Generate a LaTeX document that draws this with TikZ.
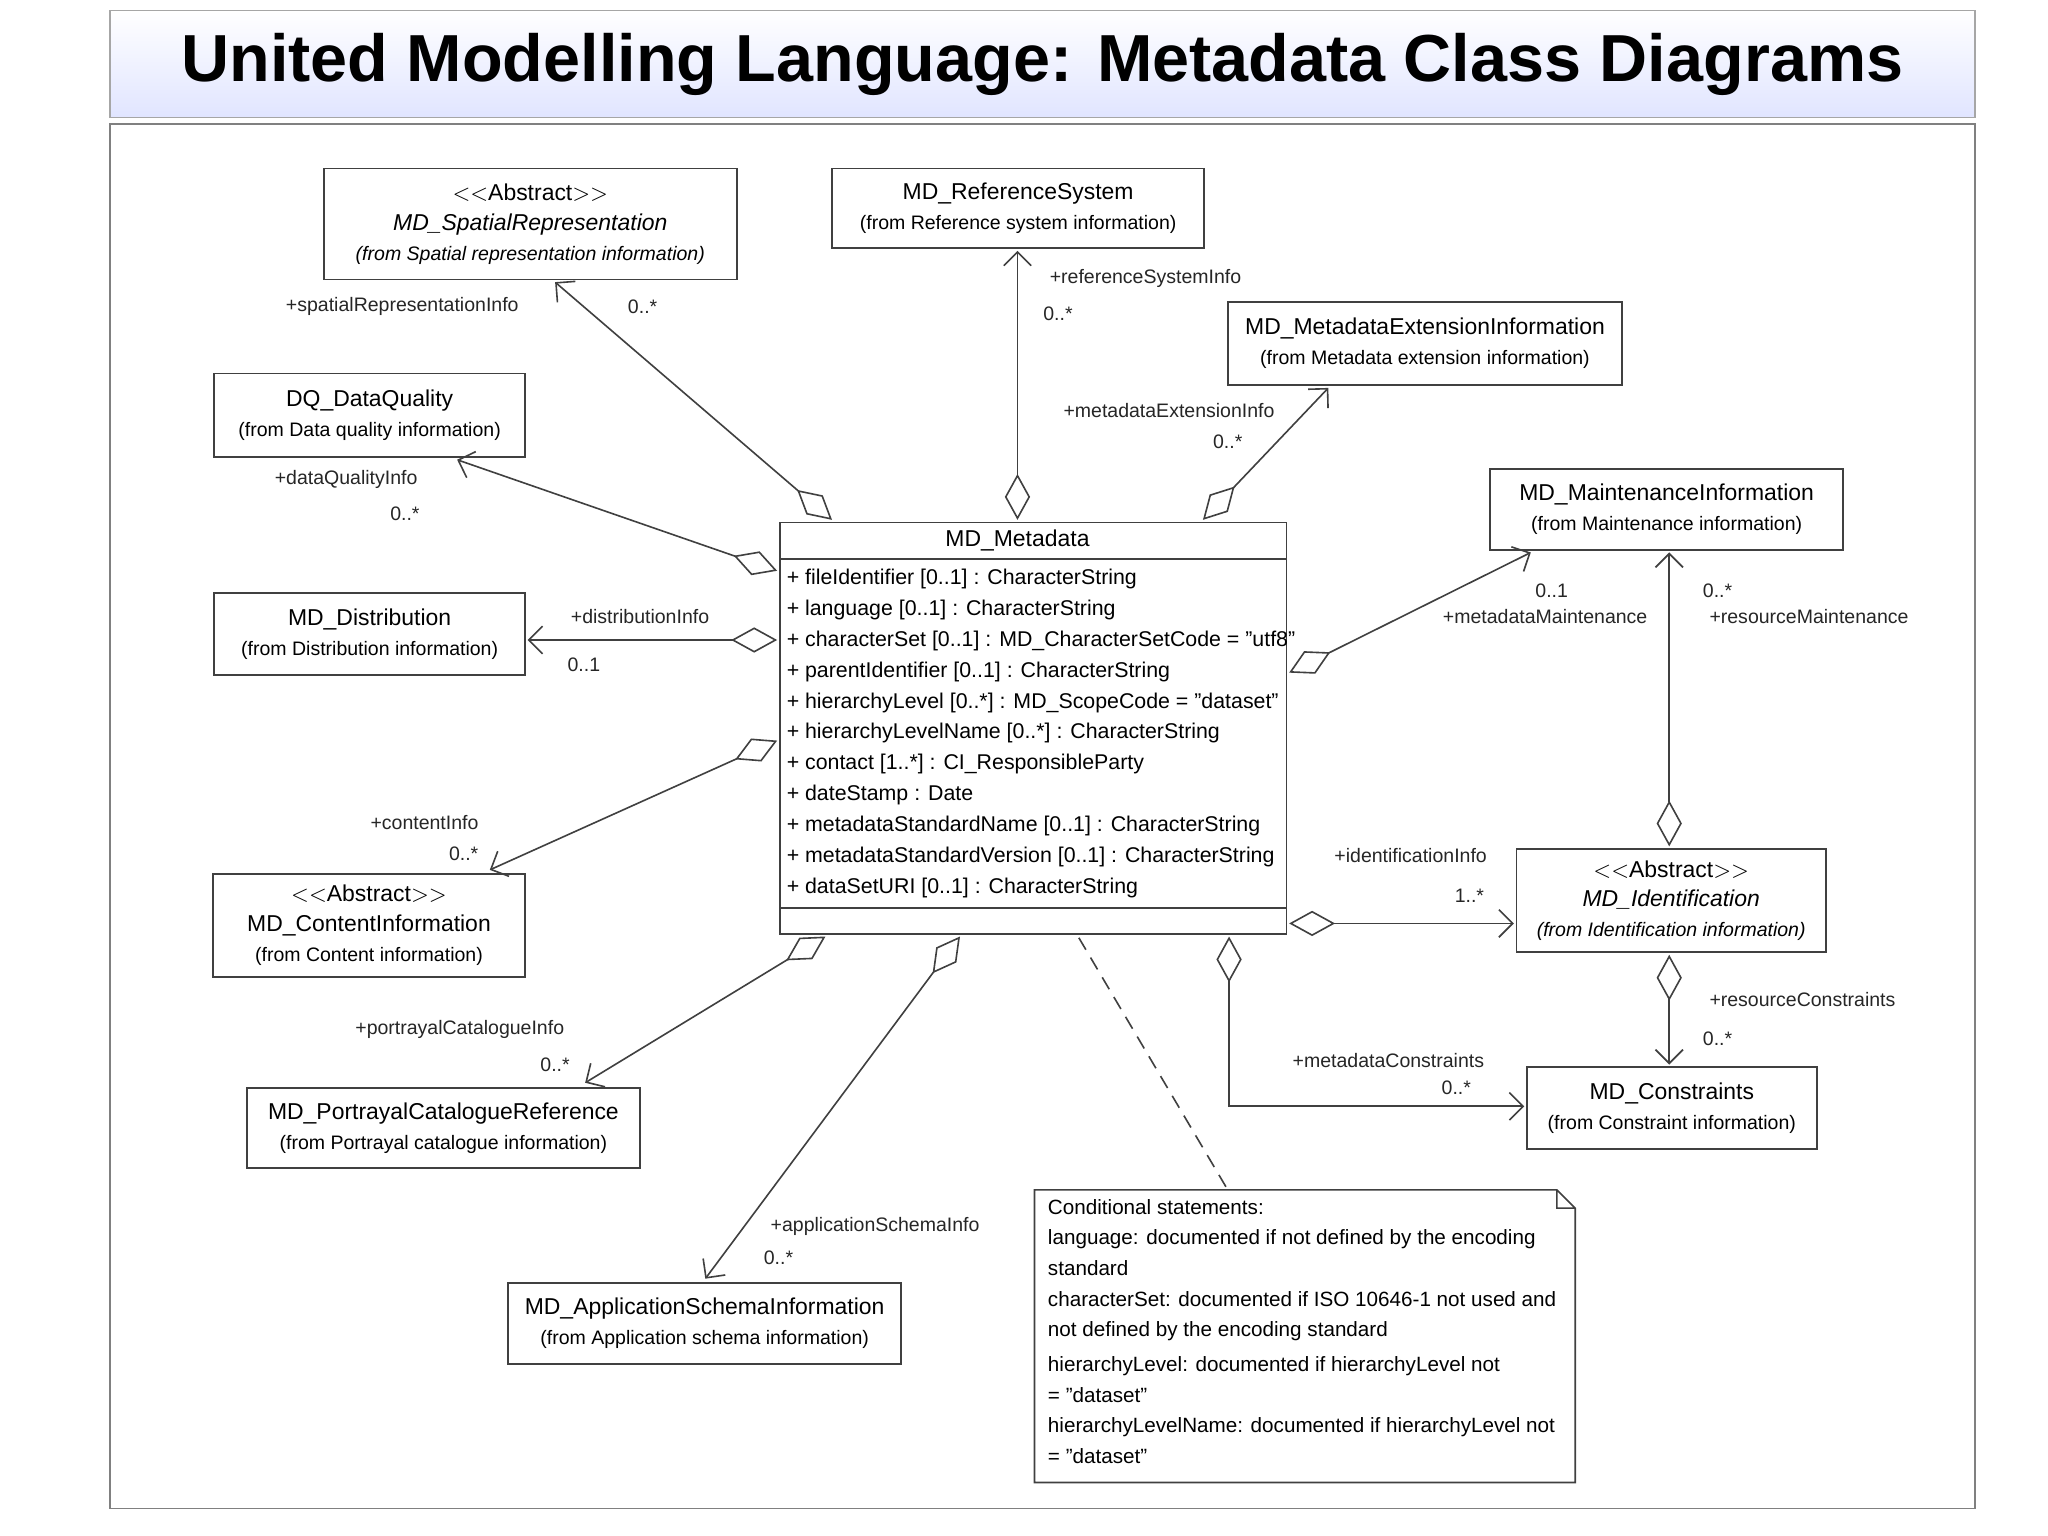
\documentclass[tikz,border=0pt]{standalone}
\usepackage{fontspec}
\setmainfont{Liberation Sans}
\usetikzlibrary{arrows.meta,shapes.geometric}
\newcommand\smf{\fontsize{8.5}{11}\selectfont}
\begin{document}
\begin{tikzpicture}[x=0.02cm,y=-0.02cm,
  box/.style={draw=black!75,line width=0.8pt,inner sep=0pt,outer sep=0pt,align=center,font=\fontsize{10}{13}\selectfont},
  lbl/.style={font=\fontsize{8.5}{10}\selectfont,inner sep=1pt,text=black!85},
  agg/.style={draw=black!75,line width=0.7pt,{Diamond[open,length=20pt,width=11pt]}-{Straight Barb[length=6pt,width=12pt]}}]
\newcommand\cbox[6]{\node[box,minimum width={(#4-#2)*0.02cm},minimum height={(#5-#3)*0.02cm}] (#1) at ({(#2+#4)/2},{(#3+#5)/2}) {#6};}
\useasboundingbox[fill=white] (0,0) rectangle (1568,1176);
% title
\node[draw=black!35,line width=0.8pt,top color=white,bottom color=cyan!14!blue!12,minimum width=28.56cm,minimum height=1.64cm,inner sep=0pt] (title) at (798,49) {};
\node[font=\fontsize{29}{34}\selectfont\bfseries] (tt) at (798,49) {United Modelling Language: Metadata Class Diagrams};
\node[draw=black!50,line width=0.7pt,minimum width=28.56cm,minimum height=21.2cm,inner sep=0pt] (frame) at (798,625) {};
% boxes
\cbox{spat}{248}{129}{564}{214}{$<<$Abstract$>>$\\ \textit{MD\_SpatialRepresentation}\\ {\smf\itshape (from Spatial representation information)}}
\cbox{ref}{637}{129}{922}{190}{MD\_ReferenceSystem\\ {\smf (from Reference system information)}}
\cbox{ext}{940}{231}{1242}{295}{MD\_MetadataExtensionInformation\\ {\smf (from Metadata extension information)}}
\cbox{dq}{164}{286}{402}{350}{DQ\_DataQuality\\ {\smf (from Data quality information)}}
\cbox{maint}{1141}{359}{1411}{421}{MD\_MaintenanceInformation\\ {\smf (from Maintenance information)}}
\cbox{dist}{164}{454}{402}{517}{MD\_Distribution\\ {\smf (from Distribution information)}}
\cbox{cont}{163}{669}{402}{748}{$<<$Abstract$>>$\\ MD\_ContentInformation\\ {\smf (from Content information)}}
\cbox{ident}{1161}{650}{1398}{729}{$<<$Abstract$>>$\\ \textit{MD\_Identification}\\ {\smf\itshape (from Identification information)}}
\cbox{cons}{1169}{817}{1391}{880}{MD\_Constraints\\ {\smf (from Constraint information)}}
\cbox{port}{189}{833}{490}{894}{MD\_PortrayalCatalogueReference\\ {\smf (from Portrayal catalogue information)}}
\cbox{app}{389}{982}{690}{1044}{MD\_ApplicationSchemaInformation\\ {\smf (from Application schema information)}}
\cbox{meta}{597}{400}{985}{715}{}
\draw[black!75,line width=0.7pt] (597,428) -- (985,428) (597,695) -- (985,695);
\node[font=\fontsize{10}{12}\selectfont] (mt) at (779,414) {MD\_Metadata};
\node[anchor=north west,align=left,inner sep=0pt,font=\fontsize{9.3}{13.5}\selectfont] (attrs) at (602,435) {%
+ fileIdentifier [0..1] : CharacterString\\
+ language [0..1] : CharacterString\\
+ characterSet [0..1] : MD\_CharacterSetCode = "utf8"\\
+ parentIdentifier [0..1] : CharacterString\\
+ hierarchyLevel [0..*] : MD\_ScopeCode = "dataset"\\
+ hierarchyLevelName [0..*] : CharacterString\\
+ contact [1..*] : CI\_ResponsibleParty\\
+ dateStamp : Date\\
+ metadataStandardName [0..1] : CharacterString\\
+ metadataStandardVersion [0..1] : CharacterString\\
+ dataSetURI [0..1] : CharacterString};
% connector end points
\coordinate (a1) at (637,398); \coordinate (b1) at (425,216);
\coordinate (a2) at (779,398); \coordinate (b2) at (779,192);
\coordinate (a3) at (921,398); \coordinate (b3) at (1017,297);
\coordinate (a4) at (595,437); \coordinate (b4) at (350,352);
\coordinate (a5) at (595,490); \coordinate (b5) at (404,490);
\coordinate (a6) at (595,567); \coordinate (b6) at (375,666);
\coordinate (a7) at (632,717); \coordinate (b7) at (448,829);
\coordinate (a8) at (735,717); \coordinate (b8) at (540,979);
\coordinate (a9) at (987,515); \coordinate (b9) at (1172,423);
\coordinate (a10) at (987,707); \coordinate (b10) at (1159,707);
\coordinate (a11) at (1278,648); \coordinate (b11) at (1278,423);
\coordinate (a12) at (1278,731); \coordinate (b12) at (1278,815);
\coordinate (a13) at (941,717); \coordinate (c13) at (941,847); \coordinate (b13) at (1167,847);
\draw[agg] (a1) -- (b1);
\draw[agg] (a2) -- (b2);
\draw[agg] (a3) -- (b3);
\draw[agg] (a4) -- (b4);
\draw[agg] (a5) -- (b5);
\draw[agg] (a6) -- (b6);
\draw[agg] (a7) -- (b7);
\draw[agg] (a8) -- (b8);
\draw[agg] (a9) -- (b9);
\draw[agg] (a10) -- (b10);
\draw[agg] (a11) -- (b11);
\draw[agg] (a12) -- (b12);
\draw[agg] (a13) -- (c13) -- (b13);
% labels
\node[lbl] at (308,235) {+spatialRepresentationInfo};
\node[lbl] at (492,235) {0..*};
\node[lbl] at (877,213) {+referenceSystemInfo};
\node[lbl] at (810,240) {0..*};
\node[lbl] at (895,314) {+metadataExtensionInfo};
\node[lbl] at (940,338) {0..*};
\node[lbl] at (265,367) {+dataQualityInfo};
\node[lbl] at (310,393) {0..*};
\node[lbl] at (490,472) {+distributionInfo};
\node[lbl] at (447,509) {0..1};
\node[lbl] at (325,630) {+contentInfo};
\node[lbl] at (355,654) {0..*};
\node[lbl] at (352,788) {+portrayalCatalogueInfo};
\node[lbl] at (425,815) {0..*};
\node[lbl] at (670,939) {+applicationSchemaInfo};
\node[lbl] at (596,963) {0..*};
\node[lbl] at (1188,452) {0..1};
\node[lbl] at (1183,472) {+metadataMaintenance};
\node[lbl] at (1080,655) {+identificationInfo};
\node[lbl] at (1125,686) {1..*};
\node[lbl] at (1315,452) {0..*};
\node[lbl] at (1385,472) {+resourceMaintenance};
\node[lbl] at (1380,765) {+resourceConstraints};
\node[lbl] at (1315,795) {0..*};
\node[lbl] at (1063,812) {+metadataConstraints};
\node[lbl] at (1115,833) {0..*};
% note
\coordinate (n1) at (826,718); \coordinate (n2) at (940,911);
\draw[black!75,line width=0.7pt,dash pattern=on 6pt off 4pt] (n1) -- (n2);
\draw[black!75,line width=0.7pt] (792,911) -- (1192,911) -- (1206,925) -- (1206,1135) -- (792,1135) -- cycle (1192,911) -- (1192,925) -- (1206,925);
\node[anchor=north west,align=left,inner sep=0pt,font=\fontsize{9}{13.3}\selectfont] (note) at (802,918) {%
Conditional statements:\\
language: documented if not defined by the encoding\\
standard\\
characterSet: documented if ISO 10646-1 not used and\\
not defined by the encoding standard\\[2pt]
hierarchyLevel: documented if hierarchyLevel not\\
= "dataset"\\
hierarchyLevelName: documented if hierarchyLevel not\\
= "dataset"};
\end{tikzpicture}
\end{document}
